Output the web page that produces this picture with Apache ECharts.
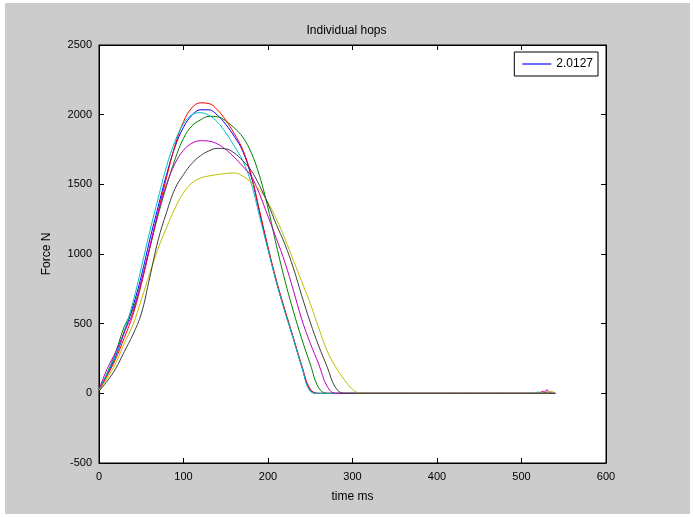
<!DOCTYPE html>
<html>
<head>
<meta charset="utf-8">
<script src="https://cdn.jsdelivr.net/npm/echarts@6/dist/echarts.min.js"></script>
<style>
  html, body { margin: 0; padding: 0; background: #ffffff; }
  #bg { position: absolute; left: 5px; top: 3px; width: 685px; height: 511px; background: #cccccc; }
  #chart { position: absolute; left: 0; top: 0; width: 693px; height: 517px; }
</style>
</head>
<body>
<div id="bg"></div>
<div id="chart"></div>
<script>
// time stamps (ms) shared by all hops
const times = [0,10,20,30,40,50,60,70,80,90,100,110,120,130,140,150,160,170,180,190,200,210,220,230,240,250,260,270,280,290,300,310,480,515,520,525,530,535,540];

// force (N) for each hop, drawn in MATLAB colour order b g r c m y k
const hopBlue    = [20,140,270,440,620,840,1100,1340,1570,1770,1910,1995,2035,2035,1997,1930,1845,1740,1560,1300,1040,800,590,395,190,20,0,0,0,0,0,0,0,0,0,0,0,0,0];
const hopGreen   = [25,150,300,480,600,800,1040,1280,1490,1680,1830,1920,1962,1988,1985,1955,1905,1840,1730,1560,1330,1060,810,590,390,210,40,0,0,0,0,0,0,0,0,0,10,0,0];
const hopRed     = [20,130,250,400,560,780,1040,1300,1550,1780,1950,2050,2085,2080,2035,1960,1865,1750,1570,1310,1050,810,600,400,200,30,0,0,0,0,0,0,0,0,0,15,0,0,0];
const hopCyan    = [25,150,280,450,650,900,1160,1400,1630,1810,1935,2000,2014,1995,1948,1870,1775,1670,1510,1270,1030,795,585,390,190,15,0,0,0,0,0,0,0,0,10,0,0,0,0];
const hopMagenta = [30,180,300,440,580,800,1050,1300,1500,1650,1745,1795,1813,1810,1790,1750,1695,1630,1560,1430,1270,1110,940,740,530,360,210,50,0,0,0,0,0,0,0,0,25,0,0];
const hopYellow  = [20,110,220,360,490,670,860,1040,1190,1330,1440,1510,1545,1560,1570,1578,1582,1560,1515,1460,1370,1250,1110,955,800,645,470,305,190,100,30,0,0,0,0,0,0,15,0];
const hopBlack   = [15,90,180,300,420,570,830,1100,1300,1470,1570,1650,1705,1740,1758,1755,1725,1670,1600,1490,1360,1210,1070,900,700,510,340,190,40,0,0,0,0,0,0,0,0,0,0];

const hops = [
  { name: '2.0127', values: hopBlue,    color: '#0000ff' },
  { name: 'hop2',   values: hopGreen,   color: '#008000' },
  { name: 'hop3',   values: hopRed,     color: '#ff0000' },
  { name: 'hop4',   values: hopCyan,    color: '#00bfbf' },
  { name: 'hop5',   values: hopMagenta, color: '#bf00bf' },
  { name: 'hop6',   values: hopYellow,  color: '#bfbf00' },
  { name: 'hop7',   values: hopBlack,   color: '#404040' }
];

const xTicks = { min: 0, max: 600, step: 100 };
const yTicks = { min: -500, max: 2500, step: 500 };

const FONT = 'Liberation Sans';
const chart = echarts.init(document.getElementById('chart'), null, { renderer: 'canvas' });

const tick = { show: true, inside: true, length: 5, lineStyle: { color: '#000', width: 1 } };

chart.setOption({
  backgroundColor: 'transparent',
  animation: false,
  title: {
    text: 'Individual hops',
    left: 'center',
    top: 20,
    textStyle: { fontFamily: FONT, fontSize: 12, fontWeight: 'normal', color: '#000' }
  },
  legend: {
    data: ['2.0127'],
    right: 95,
    top: 52,
    orient: 'vertical',
    icon: 'path://M0,0H30V1.2H0Z',
    backgroundColor: '#ffffff',
    borderColor: '#000',
    borderWidth: 1,
    padding: [6, 5, 6, 8],
    itemWidth: 29,
    itemHeight: 12,
    textStyle: { fontFamily: FONT, fontSize: 12, color: '#000' }
  },
  grid: {
    left: 99, right: 87, top: 45, bottom: 54,
    show: true, backgroundColor: '#ffffff', borderColor: '#000', borderWidth: 1
  },
  xAxis: [
    {
      type: 'value', min: xTicks.min, max: xTicks.max, interval: xTicks.step,
      position: 'bottom',
      name: 'time ms', nameLocation: 'middle', nameGap: 28,
      nameTextStyle: { fontFamily: FONT, fontSize: 12, color: '#000' },
      axisLine: { show: true, onZero: false, lineStyle: { color: '#000' } },
      axisTick: tick,
      axisLabel: { fontFamily: FONT, fontSize: 11, color: '#000', margin: 8, formatter: v => String(v) },
      splitLine: { show: false }
    },
    {
      type: 'value', min: xTicks.min, max: xTicks.max, interval: xTicks.step,
      position: 'top',
      axisLine: { show: true, onZero: false, lineStyle: { color: '#000' } },
      axisTick: tick, axisLabel: { show: false }, splitLine: { show: false }
    }
  ],
  yAxis: [
    {
      type: 'value', min: yTicks.min, max: yTicks.max, interval: yTicks.step,
      position: 'left',
      name: 'Force N', nameLocation: 'middle', nameGap: 46,
      nameTextStyle: { fontFamily: FONT, fontSize: 12, color: '#000' },
      axisLine: { show: true, onZero: false, lineStyle: { color: '#000' } },
      axisTick: tick,
      axisLabel: { fontFamily: FONT, fontSize: 11, color: '#000', margin: 7, formatter: v => String(v) },
      splitLine: { show: false }
    },
    {
      type: 'value', min: yTicks.min, max: yTicks.max, interval: yTicks.step,
      position: 'right',
      axisLine: { show: true, onZero: false, lineStyle: { color: '#000' } },
      axisTick: tick, axisLabel: { show: false }, splitLine: { show: false }
    }
  ],
  series: hops.map(h => ({
    name: h.name,
    type: 'line',
    xAxisIndex: 0, yAxisIndex: 0,
    data: times.map((t, i) => [t, h.values[i]]),
    symbol: 'none',
    smooth: 0.4,
    lineStyle: { color: h.color, width: 1 },
    itemStyle: { color: h.color },
    emphasis: { disabled: true }
  }))
});
</script>
</body>
</html>
